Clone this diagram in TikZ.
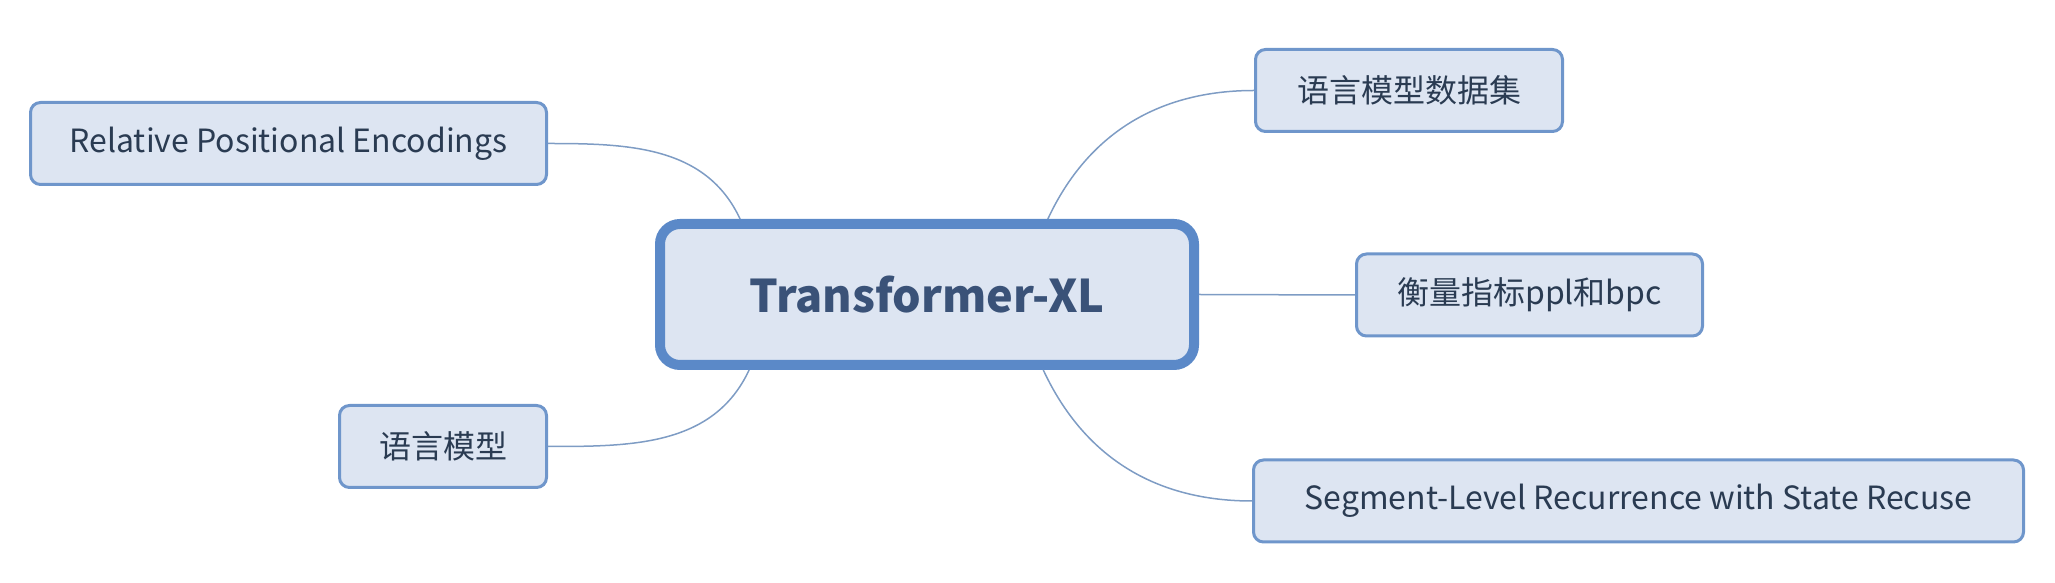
\documentclass[tikz,border=0pt]{standalone}
\usepackage{fontspec}
\setmainfont{Noto Sans CJK SC}
\usepackage{tikz}
\usetikzlibrary{positioning}
\definecolor{boxfill}{HTML}{DDE5F2}
\definecolor{leafline}{HTML}{6F96CB}
\definecolor{coreline}{HTML}{5B89C8}
\definecolor{leaftext}{HTML}{2A3B52}
\definecolor{coretext}{HTML}{3A5278}
\definecolor{linkline}{HTML}{7E9CC4}

\begin{document}
\begin{tikzpicture}[x=1pt, y=1pt,
  core/.style={draw=coreline, fill=boxfill, line width=10pt, rounded corners=20pt,
               minimum width=534pt, minimum height=141pt, inner sep=0pt,
               text=coretext, font=\fontsize{45}{52}\selectfont\bfseries},
  leaf/.style={draw=leafline, fill=boxfill, line width=3pt, rounded corners=10pt,
               minimum height=82pt, inner sep=0pt, yshift=-1pt,
               text=leaftext, font=\fontsize{32}{38}\selectfont},
  link/.style={draw=linkline, line width=1.5pt}
]
\useasboundingbox (0,0) rectangle (2055,583);

\node[core]                     (core)   at (927,288.5)   {Transformer-XL};
\node[leaf, minimum width=516pt] (rpe)    at (288.5,440.5) {Relative Positional Encodings};
\node[leaf, minimum width=207pt] (lm)     at (443,137.5)   {语言模型};
\node[leaf, minimum width=307pt] (lmdata) at (1409,493.5)  {语言模型数据集};
\node[leaf, minimum width=346pt] (metric) at (1529.5,289)  {衡量指标ppl和bpc};
\node[leaf, minimum width=770pt] (seg)    at (1638.5,83)   {Segment-Level Recurrence with State Recuse};

\draw[link] (core.158)    to[out=115,in=0]   (rpe.east);
\draw[link] (core.-157.5) to[out=-115,in=0]  (lm.east);
\draw[link] (core.32)     to[out=65,in=180]  (lmdata.west);
\draw[link] (core.east)   --                 (metric.west);
\draw[link] (core.-33)    to[out=-65,in=180] (seg.west);

\end{tikzpicture}
\end{document}
